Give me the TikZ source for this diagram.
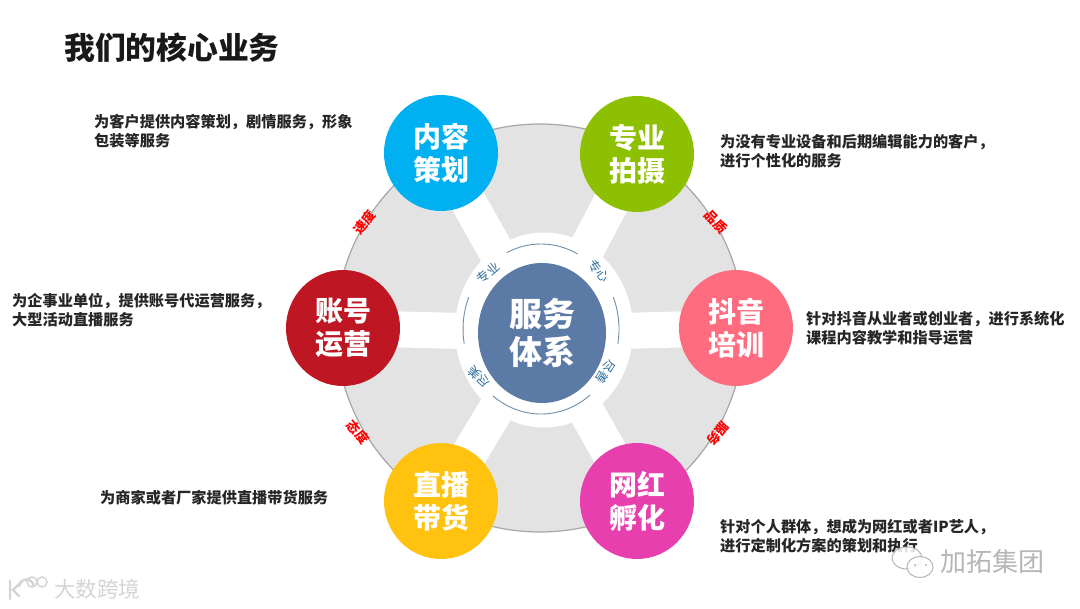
\documentclass[tikz,border=0pt]{standalone}
\usepackage{fontspec}
\setmainfont{Noto Sans CJK SC}
\definecolor{wheelgray}{HTML}{E3E3E3}
\definecolor{rimgray}{HTML}{A6A6A6}
\definecolor{hubblue}{HTML}{5B7BA6}
\definecolor{arcblue}{HTML}{6F8FA8}
\definecolor{lblblue}{HTML}{2F6F9F}
\definecolor{cblue}{HTML}{00B0F0}
\definecolor{cgreen}{HTML}{8CC000}
\definecolor{cpink}{HTML}{FF6B7F}
\definecolor{cmagenta}{HTML}{E83FAE}
\definecolor{cyellow}{HTML}{FFC20E}
\definecolor{cred}{HTML}{BE1622}
\definecolor{wm}{HTML}{B5B5B5}
\definecolor{wmlight}{HTML}{D4D4D4}
\usetikzlibrary{shapes.geometric,backgrounds}
\tikzset{
  sat/.style={ellipse,minimum width=114pt,minimum height=116pt,inner sep=0pt,text=white,align=center,font=\fontsize{28}{33}\selectfont\bfseries,execute at begin node={\vspace*{6pt}}},
  desc/.style={anchor=north west,align=left,inner sep=0pt,font=\fontsize{15.2}{19.5}\selectfont\bfseries,text=black!85},
  redlbl/.style={text=red,inner sep=0pt,font=\fontsize{13}{14}\selectfont\bfseries},
  bluelbl/.style={text=lblblue,inner sep=0pt,font=\fontsize{12.5}{13}\selectfont},
  spoke/.style={draw=white,line width=36pt},
  innerarc/.style={draw=arcblue,line width=0.9pt},
  wmtext/.style={text=wm,inner sep=0pt,font=\fontsize{26}{28}\selectfont},
  logoline/.style={draw=wm,line width=1pt,fill=white,fill opacity=0.85},
  klogo/.style={draw=wmlight,line width=2.4pt,line cap=round,fill=none}
}
\begin{document}
\begin{tikzpicture}[x=1pt,y=-1pt]
\useasboundingbox (0,0) rectangle (1080,609);
\node[anchor=west,inner sep=0pt,font=\fontsize{30.8}{34}\selectfont\bfseries,text=black!90] (title) at (64,48) {我们的核心业务};
\node[sat,fill=cblue] (a) at (441,153) {内容\\策划};
\node[sat,fill=cgreen] (b) at (637,154) {专业\\拍摄};
\node[sat,fill=cpink] (c) at (736,328) {抖音\\培训};
\node[sat,fill=cmagenta] (d) at (637,501) {网红\\孵化};
\node[sat,fill=cyellow] (e) at (441,501) {直播\\带货};
\node[sat,fill=cred] (f) at (343,328) {账号\\运营};
\node[ellipse,fill=hubblue,minimum width=128pt,minimum height=140pt,inner sep=0pt,text=white,align=center,font=\fontsize{33}{38}\selectfont\bfseries] (hub) at (542,333) {服务\\体系};
\begin{scope}[on background layer]
\node[ellipse,draw=rimgray,line width=1.2pt,fill=wheelgray,minimum width=408pt,minimum height=408pt,inner sep=0pt] (wheel) at (540,328) {};
\foreach \s in {a,b,c,d,e,f}{\draw[spoke] (hub.center) -- (\s.center);}
\node[ellipse,fill=white,minimum width=178pt,minimum height=195pt,inner sep=0pt] (halo) at (544,330) {};
\end{scope}
% inner arcs
\coordinate (arcc) at (541,329);
\draw[innerarc] (arcc) ++(116:78pt and 85pt) arc[start angle=116,end angle=62,x radius=78pt,y radius=85pt];
\draw[innerarc] (arcc) ++(22:78pt and 85pt) arc[start angle=22,end angle=-10,x radius=78pt,y radius=85pt];
\draw[innerarc] (arcc) ++(309:78pt and 85pt) arc[start angle=309,end angle=232,x radius=78pt,y radius=85pt];
\draw[innerarc] (arcc) ++(190:78pt and 85pt) arc[start angle=190,end angle=158,x radius=78pt,y radius=85pt];
\node[bluelbl,rotate=40] (l1) at (488,273) {专业};
\node[bluelbl,rotate=-52] (l2) at (599,271) {专心};
\node[bluelbl,rotate=138] (l3) at (479,377) {尽美};
\node[bluelbl,rotate=-122] (l4) at (606,372) {尽善};
\node[redlbl,rotate=52] (r1) at (365,222) {速度};
\node[redlbl,rotate=-47] (r2) at (716,222) {品质};
\node[redlbl,rotate=-130] (r3) at (718,434) {服务};
\node[redlbl,rotate=-50] (r4) at (358,432) {态度};
% descriptions
\node[desc] (d1) at (94,114) {为客户提供内容策划，剧情服务，形象\\包装等服务};
\node[desc] (d2) at (720,134) {为没有专业设备和后期编辑能力的客户，\\进行个性化的服务};
\node[desc] (d3) at (806,311) {针对抖音从业者或创业者，进行系统化\\课程内容教学和指导运营};
\node[desc] (d4) at (720,519) {针对个人群体，想成为网红或者IP艺人，\\进行定制化方案的策划和执行};
\node[desc] (d5) at (100,490) {为商家或者厂家提供直播带货服务};
\node[desc] (d6) at (12,293) {为企事业单位，提供账号代运营服务，\\大型活动直播服务};
% watermarks
\node[wmtext,anchor=west] (w1) at (940,562) {加拓集团};
\node[wmtext,anchor=west,font=\fontsize{21.5}{24}\selectfont,text=wmlight] (w2) at (54,589) {大数跨境};
\draw[logoline] (907,558) ellipse[x radius=15pt,y radius=11pt];
\draw[logoline] (920,567) ellipse[x radius=13pt,y radius=10.5pt];
\fill[wm] (915,565) circle[radius=1.1pt] (926,565) circle[radius=1.1pt];
\draw[klogo] (10,581) -- (10,599) (22,581) -- (13,590) -- (19,596);
\draw[klogo] (19,586) arc[start angle=200,end angle=340,x radius=8pt,y radius=-10pt];
\draw[klogo,line width=1.5pt] (32,582) circle[radius=5pt] (42,582) circle[radius=5pt];
\end{tikzpicture}
\end{document}
